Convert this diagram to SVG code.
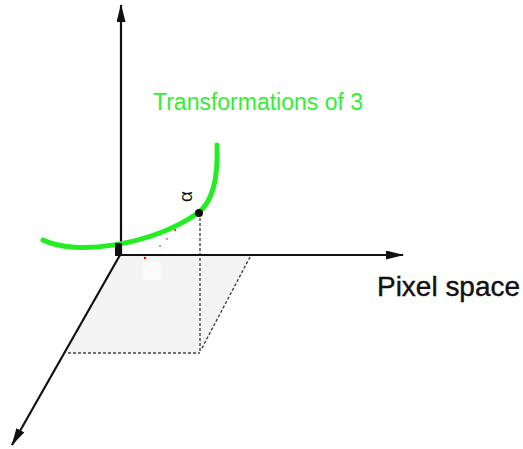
<svg xmlns="http://www.w3.org/2000/svg" width="523" height="449" viewBox="0 0 523 449">
<style>
.axis{stroke:#111;stroke-width:2.2;fill:none}
.dash{stroke:#444;stroke-width:1.4;stroke-dasharray:3,2;fill:none}
.red{fill:#e00}
</style>
<defs>
<marker id="ahL" markerWidth="18" markerHeight="9" refX="17" refY="4.5" orient="auto" markerUnits="userSpaceOnUse" viewBox="0 0 18 9">
<path d="M0,0 L18,4.5 L0,9 Z" fill="#111"/>
</marker>
</defs>
<g id="plane">
<polygon points="120,255 250,255 200,353 66,353" fill="#f4f4f4"/>
<rect x="143" y="262" width="18" height="18" fill="#fbfbfb"/>
<line class="dash" x1="200" y1="213" x2="200" y2="353"/>
<line class="dash" x1="68" y1="353" x2="200" y2="353"/>
<line class="dash" x1="250" y1="257" x2="201" y2="350" stroke="#777"/>
</g>
<g id="connectors">
<line class="axis" x1="121" y1="256" x2="121" y2="5" marker-end="url(#ahL)"/>
<line class="axis" x1="120" y1="255" x2="403" y2="255" marker-end="url(#ahL)"/>
<line class="axis" x1="120" y1="255" x2="12" y2="445" marker-end="url(#ahL)"/>
</g>
<g id="curve">
<path d="M43,240 C75,256 150,246 198,213 C215,200 218,170 217,145" stroke="#22ee22" stroke-width="5" fill="none" stroke-linecap="round"/>
<rect x="115" y="243" width="7" height="13" fill="#111"/>
<circle cx="199" cy="213" r="4" fill="#111"/>
<circle class="red" cx="145" cy="258" r="1.2"/>
<circle class="red" cx="160" cy="246" r="0.8"/>
<circle class="red" cx="167" cy="239" r="0.8"/>
<circle class="red" cx="175" cy="230" r="1"/>
</g>
<g id="labels">
<text x="153" y="110" font-family="Liberation Sans, Arial, sans-serif" font-size="23" fill="#33ee33" textLength="210" lengthAdjust="spacingAndGlyphs">Transformations of 3</text>
<text transform="translate(192,202) rotate(-90)" font-family="Liberation Sans, Arial, sans-serif" font-size="19" fill="#111">α</text>
<text x="377" y="296" font-family="Liberation Sans, Arial, sans-serif" font-size="27" fill="#111" stroke="#111" stroke-width="0.4" textLength="143" lengthAdjust="spacingAndGlyphs">Pixel space</text>
</g>
</svg>
